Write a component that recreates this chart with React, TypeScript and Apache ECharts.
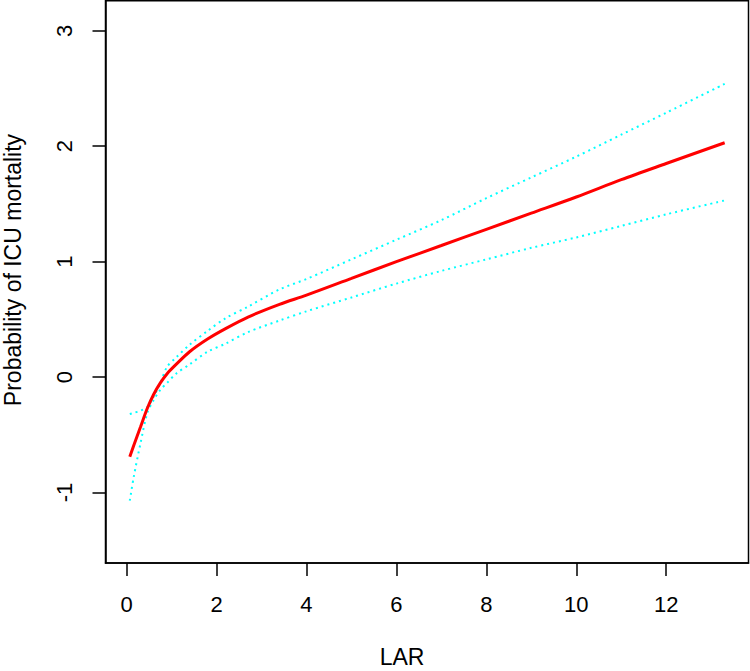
import React, { useEffect, useRef } from "react";
import * as echarts from "echarts";

const xs = [0.07, 0.16, 0.31, 0.46, 0.6, 0.75, 0.9, 1.1, 1.4, 1.8, 2.2, 2.7, 3.4, 4, 5, 6, 7, 8, 9, 10, 11, 12, 13.3];
const fitY = [-0.69, -0.59, -0.43, -0.27, -0.15, -0.05, 0.03, 0.11, 0.22, 0.33, 0.42, 0.52, 0.63, 0.71, 0.855, 1.0, 1.14, 1.28, 1.42, 1.56, 1.71, 1.85, 2.03];
const upperY = [-0.32, -0.31, -0.29, -0.26, -0.17, -0.05, 0.09, 0.17, 0.28, 0.4, 0.51, 0.61, 0.76, 0.85, 1.02, 1.19, 1.36, 1.55, 1.73, 1.91, 2.1, 2.29, 2.54];
const lowerY = [-1.07, -0.86, -0.57, -0.31, -0.2, -0.11, -0.05, 0.03, 0.11, 0.22, 0.29, 0.39, 0.49, 0.57, 0.69, 0.81, 0.92, 1.02, 1.12, 1.21, 1.31, 1.41, 1.53];
const xTicks = [0, 2, 4, 6, 8, 10, 12];
const yTicks = [-1, 0, 1, 2, 3];
const xTitle = "LAR";
const yTitle = "Probability of ICU mortality";

const FONT = "'Liberation Sans', Arial, Helvetica, sans-serif";

export default function App() {
  const ref = useRef<HTMLDivElement>(null);
  useEffect(() => {
    if (!ref.current) return;
    const chart = echarts.init(ref.current, null, { renderer: "svg" });
    const pair = (ys: number[]) => xs.map((x, i) => [x, ys[i]]);
    chart.setOption({
      animation: false,
      backgroundColor: "#ffffff",
      grid: {
        left: 105.5,
        right: 1.5,
        top: 0.75,
        bottom: 108,
        show: true,
        borderColor: "#000",
        borderWidth: 1.5,
        backgroundColor: "transparent",
      },
      xAxis: {
        type: "value",
        min: -0.47,
        max: 13.83,
        splitLine: { show: false },
        axisLine: { show: true, onZero: false, lineStyle: { color: "#000", width: 1.5 } },
        axisTick: { show: true, customValues: xTicks, length: 13, lineStyle: { color: "#000", width: 1.5 } },
        axisLabel: { customValues: xTicks, margin: 30, fontSize: 22, color: "#000", fontFamily: FONT },
      },
      yAxis: {
        type: "value",
        min: -1.61,
        max: 3.26,
        splitLine: { show: false },
        axisLine: { show: true, onZero: false, lineStyle: { color: "#000", width: 1.5 } },
        axisTick: { show: true, customValues: yTicks, length: 13, lineStyle: { color: "#000", width: 1.5 } },
        axisLabel: { customValues: yTicks, rotate: 90, margin: 30, fontSize: 22, color: "#000", fontFamily: FONT },
      },
      graphic: [
        {
          type: "text",
          x: 402,
          y: 657,
          style: { text: xTitle, fontSize: 23, fontFamily: FONT, fill: "#000", textAlign: "center", textVerticalAlign: "middle" },
        },
        {
          type: "text",
          x: 13,
          y: 270,
          rotation: Math.PI / 2,
          style: { text: yTitle, fontSize: 23, fontFamily: FONT, fill: "#000", textAlign: "center", textVerticalAlign: "middle" },
        },
      ],
      series: [
        {
          type: "line",
          data: pair(upperY),
          smooth: 0.3,
          showSymbol: false,
          lineStyle: { color: "#00FFFF", width: 2, type: [2, 4] },
          z: 2,
        },
        {
          type: "line",
          data: pair(lowerY),
          smooth: 0.3,
          showSymbol: false,
          lineStyle: { color: "#00FFFF", width: 2, type: [2, 4] },
          z: 2,
        },
        {
          type: "line",
          data: pair(fitY),
          smooth: 0.3,
          showSymbol: false,
          lineStyle: { color: "#FF0000", width: 3 },
          z: 3,
        },
      ],
    });
    return () => chart.dispose();
  }, []);
  return <div ref={ref} style={{ position: "absolute", left: 0, top: 0, width: 750, height: 671 }} />;
}
